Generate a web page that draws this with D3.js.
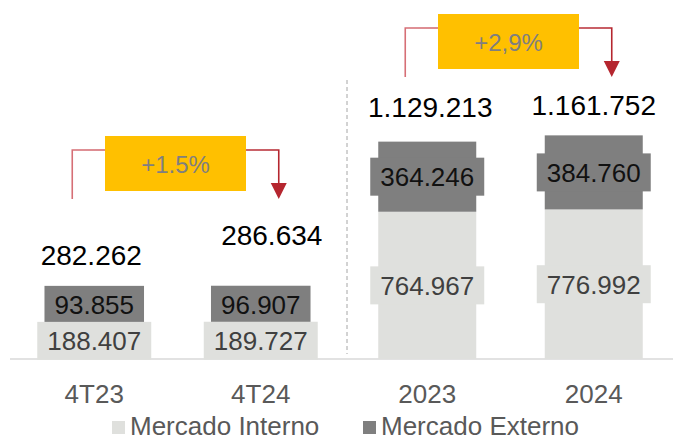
<!DOCTYPE html>
<html>
<head>
<meta charset="utf-8">
<script src="https://cdn.jsdelivr.net/npm/d3@7"></script>
<style>
  body { margin: 0; background: #fff; }
  svg { display: block; font-family: "Liberation Sans", Arial, sans-serif; }
</style>
</head>
<body>
<div id="chart"></div>
<script>
/* Mercado interno x externo - stacked bars */

const categories = ["4T23", "4T24", "2023", "2024"];
const interno = [188407, 189727, 764967, 776992];
const externo = [93855, 96907, 364246, 384760];
const totals = [282262, 286634, 1129213, 1161752];
const seriesNames = ["Mercado Interno", "Mercado Externo"];
const growthPairs = [[0, 1], [2, 3]];
const growthLabels = ["+1.5%", "+2,9%"];

const width = 673,
      height = 441,
      baseY = 359,
      barW = 98;

const colors = { interno: "#dfe0dd", externo: "#7f7f7f", red: "#b5262f", yellow: "#ffc000" };

// layout tweaks for total labels (lift above bar top, horizontal nudge)
const totalLift = [40, 59, 25, 20],
      totalShift = [-3, 11, 3, 0];
// bracket vertical positions for each growth pair
const bracketTop = [150, 28],
      bracketBottom = [199, 77];

const fmt = d3.formatLocale({ decimal: ",", thousands: ".", grouping: [3], currency: ["", ""] }).format(",d");

const data = categories.map((c, i) => ({ cat: c, interno: interno[i], externo: externo[i], total: totals[i] }));

let svg = d3.select("#chart")
    .append("svg")
    .attr("width", width)
    .attr("height", height)
    .attr("viewBox", [0, 0, width, height]);

let x = d3.scalePoint()
    .domain(categories)
    .range([11, 677])
    .padding(0.5);

let y = d3.scaleLinear()
    .domain([0, 1200000])
    .range([baseY, baseY - 231]);

// baseline
svg.append("line")
    .attr("x1", 10).attr("x2", width)
    .attr("y1", baseY).attr("y2", baseY)
    .attr("stroke", "#d9d9d9")
    .attr("stroke-width", 1.5);

// dashed separator between quarters and years
let sepX = (x("4T24") + x("2023")) / 2 + 3;
svg.append("line")
    .attr("x1", sepX).attr("x2", sepX)
    .attr("y1", 80).attr("y2", 354)
    .attr("stroke", "#a6a6a6")
    .attr("stroke-width", 1)
    .attr("stroke-dasharray", "4,3");

let stack = d3.stack().keys(["interno", "externo"])(data);

svg.append("g")
    .selectAll("g")
    .data(stack)
    .join("g")
    .attr("fill", d => colors[d.key])
    .selectAll("rect")
    .data(d => d)
    .join("rect")
    .attr("x", d => x(d.data.cat) - barW / 2)
    .attr("width", barW)
    .attr("y", d => y(d[1]))
    .attr("height", d => y(d[0]) - y(d[1]));

// segment labels in boxes
function labelBox(g, cx, cy, value, fill, textColor) {
    let box = g.append("rect").attr("fill", fill);
    let t = g.append("text")
        .attr("x", cx)
        .attr("y", cy + 9.5)
        .attr("text-anchor", "middle")
        .attr("font-size", 26)
        .attr("fill", textColor)
        .text(fmt(value));
    let w = t.node().getComputedTextLength() + 20;
    box.attr("x", cx - w / 2).attr("width", w)
        .attr("y", cy - 19).attr("height", 38);
}

let labels = svg.append("g");
data.forEach((d, i) => {
    let cx = x(d.cat);
    let lightC = (y(0) + y(d.interno)) / 2;
    let darkC = Math.min((y(d.interno) + y(d.total)) / 2, lightC - 36);
    labelBox(labels.append("g"), cx, darkC, d.externo, colors.externo, "#111");
    labelBox(labels.append("g"), cx, lightC, d.interno, colors.interno, "#404040");
});

// totals
svg.append("g")
    .selectAll("text")
    .data(data)
    .join("text")
    .attr("x", (d, i) => x(d.cat) + totalShift[i])
    .attr("y", (d, i) => y(d.total) - totalLift[i])
    .attr("text-anchor", "middle")
    .attr("font-size", 28)
    .attr("fill", "#000")
    .text(d => fmt(d.total));

// growth brackets
let defs = svg.append("defs");
let grad = defs.append("linearGradient")
    .attr("id", "redgrad")
    .attr("x1", "0").attr("x2", "1").attr("y1", "0").attr("y2", "0");
grad.append("stop").attr("offset", "0%").attr("stop-color", "#d66f76");
grad.append("stop").attr("offset", "100%").attr("stop-color", colors.red);

growthPairs.forEach((p, i) => {
    let xl = x(categories[p[0]]) - 22,
        xr = x(categories[p[1]]) + 18,
        top = bracketTop[i],
        bot = bracketBottom[i];
    let g = svg.append("g");
    g.append("path")
        .attr("d", `M${xl},${bot}V${top}H${xr}V${bot - 15}`)
        .attr("fill", "none")
        .attr("stroke", "url(#redgrad)")
        .attr("stroke-width", 1.6);
    g.append("path")
        .attr("d", `M${xr - 8},${bot - 16}L${xr + 8},${bot - 16}L${xr},${bot}Z`)
        .attr("fill", colors.red);
    let cx = (xl + xr) / 2;
    g.append("rect")
        .attr("x", cx - 70.5).attr("width", 141)
        .attr("y", top - 14).attr("height", 55)
        .attr("fill", colors.yellow);
    g.append("text")
        .attr("x", cx)
        .attr("y", top - 14 + 27.5 + 9)
        .attr("text-anchor", "middle")
        .attr("font-size", 24)
        .attr("fill", "#7f7f7f")
        .text(growthLabels[i]);
});

// category labels
svg.append("g")
    .selectAll("text")
    .data(categories)
    .join("text")
    .attr("x", d => x(d))
    .attr("y", 403)
    .attr("text-anchor", "middle")
    .attr("font-size", 26)
    .attr("fill", "#595959")
    .text(d => d);

// legend (kept just inside the bottom edge so descenders are not clipped)
let legendX = [112, 363];
let legend = svg.append("g")
    .selectAll("g")
    .data(seriesNames)
    .join("g")
    .attr("transform", (d, i) => `translate(${legendX[i]},0)`);

legend.append("rect")
    .attr("y", 421)
    .attr("width", 13)
    .attr("height", 13)
    .attr("fill", (d, i) => i === 0 ? colors.interno : colors.externo);

legend.append("text")
    .attr("x", 18)
    .attr("y", 435)
    .attr("font-size", 26)
    .attr("fill", "#595959")
    .text(d => d);
</script>
</body>
</html>
